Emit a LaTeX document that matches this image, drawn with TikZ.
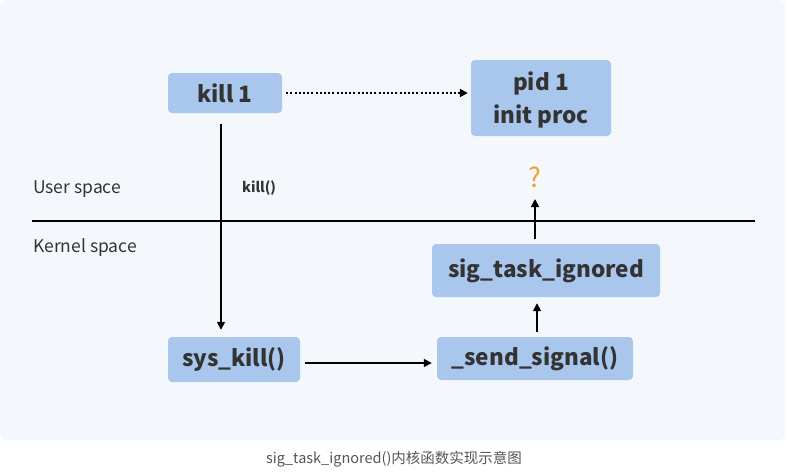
\documentclass[tikz,border=0pt]{standalone}
\usepackage{fontspec}
\setmainfont{Noto Sans CJK SC}
\usetikzlibrary{arrows.meta}
\definecolor{panel}{HTML}{F4F8FD}
\definecolor{boxfill}{HTML}{A9C6EC}
\definecolor{txt}{HTML}{333333}
\definecolor{capt}{HTML}{555555}
\definecolor{qorange}{HTML}{F0A030}
\tikzset{
  fbox/.style={fill=boxfill, rounded corners=4pt, text=txt, font=\fontsize{22.5}{30}\selectfont\bfseries, align=center, inner sep=0pt},
  conn/.style={line width=1.6pt, -{Triangle[length=8pt,width=8pt]}},
  lbl/.style={text=txt, font=\fontsize{17.5}{20}\selectfont, inner sep=0pt}
}
\begin{document}
\begin{tikzpicture}[x=1pt,y=-1pt]
\useasboundingbox (0,0) rectangle (788,472);
\fill[panel, rounded corners=6pt] (0,0) rectangle (785,440);
\node[fbox, minimum width=114pt, minimum height=40pt] (kill) at (225,93) {kill 1};
\node[fbox, minimum width=140pt, minimum height=76pt, text depth=0pt] (pid) at (541,98) {pid 1\\[3pt]init proc};
\node[fbox, minimum width=132pt, minimum height=45pt] (sys) at (234,359.5) {sys\_kill()};
\node[fbox, minimum width=196pt, minimum height=43pt] (send) at (535,358.5) {\_send\_signal()};
\node[fbox, minimum width=228pt, minimum height=53pt] (ign) at (546,270.5) {sig\_task\_ignored};
\coordinate (lineL) at (32,221);
\coordinate (lineR) at (755,221);
\draw[line width=1.8pt] (lineL) -- (lineR);
\node[lbl, anchor=west] (user) at (33,189) {User space};
\node[lbl, anchor=west] (kern) at (33,248) {Kernel space};
\node[lbl, font=\fontsize{14}{17}\selectfont\bfseries, anchor=west] (killcall) at (242,188) {kill()};
\node[text=qorange, font=\fontsize{27}{30}\selectfont, inner sep=0pt] (q) at (535,177) {?};
\draw[conn, line width=2pt, dash pattern=on 2pt off 2.2pt] ([xshift=4pt]kill.east) -- ([xshift=-3pt]pid.west |- kill.east);
\draw[conn] ([yshift=-11pt]kill.south -| 221,0) -- ([yshift=7pt]sys.north -| 221,0);
\draw[conn] ([xshift=5pt]sys.east |- 0,363) -- ([xshift=-5pt]send.west |- 0,363);
\draw[conn] ([yshift=5pt]send.north -| 537,0) -- ([yshift=-6pt]ign.south -| 537,0);
\draw[conn] ([yshift=5pt]ign.north -| 535,0) -- (535,199);
\node[text=capt, font=\fontsize{14.5}{17}\selectfont, inner sep=0pt] (cap) at (394,459) {sig\_task\_ignored()内核函数实现示意图};
\end{tikzpicture}
\end{document}
